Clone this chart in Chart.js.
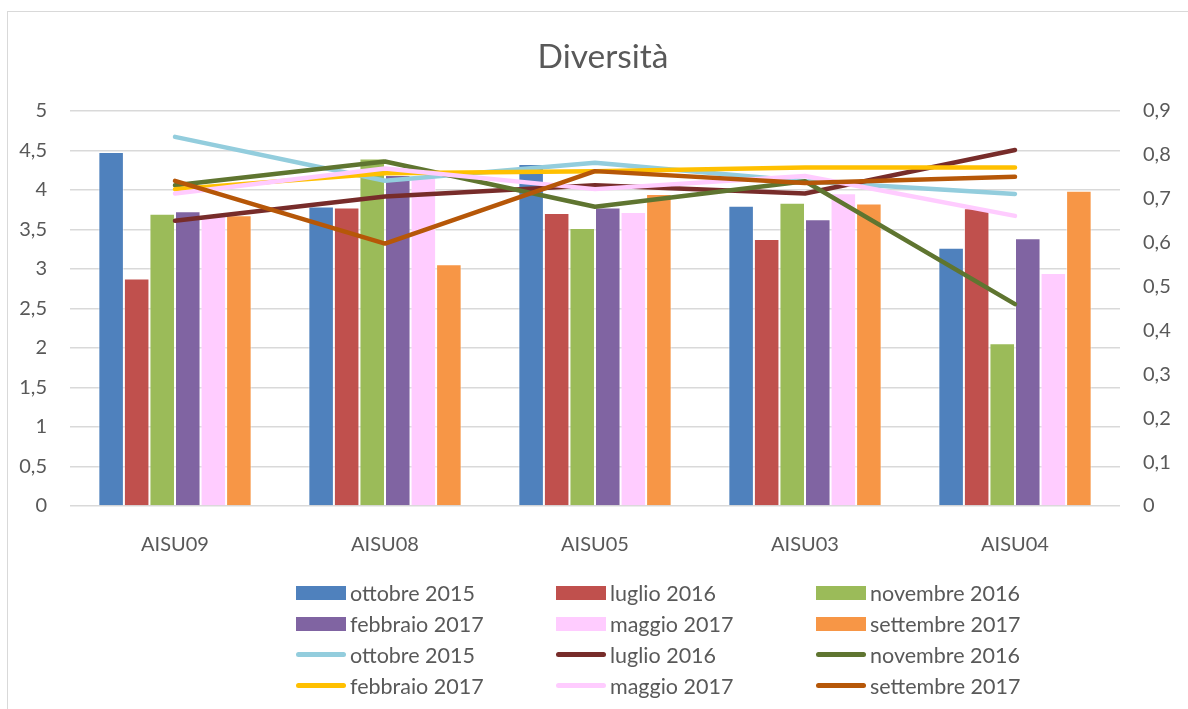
<!DOCTYPE html>
<html>
<head>
<meta charset="utf-8">
<script src="https://cdn.jsdelivr.net/npm/chart.js@4/dist/chart.umd.min.js"></script>
<style>
    body { margin: 0; background: #fff; }
    #wrap { position: relative; width: 1188px; height: 709px; overflow: hidden; }
    #frame { position: absolute; left: 7px; top: 11px; width: 1200px; height: 720px; border: 1.5px solid #d9d9d9; }
    #chart { position: absolute; left: 0; top: 0; }
    #legend {
        position: absolute; left: 296px; top: 577px;
        display: grid; grid-template-columns: 260px 260px 260px; grid-auto-rows: 31px;
        font-family: Lato, "Open Sans", sans-serif; font-size: 21.5px; color: #595959;
    }
    .item { display: flex; align-items: center; white-space: nowrap; }
    .box { width: 50px; height: 14px; margin-right: 4px; }
    .ln { width: 50px; height: 5px; border-radius: 3px; margin-right: 4px; }
</style>
</head>
<body>
<div id="wrap">
    <div id="frame"></div>
    <canvas id="chart" width="1188" height="709"></canvas>
    <div id="legend"></div>
</div>
<script>
const sites = ["AISU09", "AISU08", "AISU05", "AISU03", "AISU04"];
const periods = ["ottobre 2015", "luglio 2016", "novembre 2016", "febbraio 2017", "maggio 2017", "settembre 2017"];

// bars, left axis
const barOtt15 = [4.48, 3.79, 4.33, 3.80, 3.27];
const barLug16 = [2.88, 3.78, 3.71, 3.38, 3.77];
const barNov16 = [3.70, 4.40, 3.52, 3.84, 2.06];
const barFeb17 = [3.73, 4.19, 3.78, 3.63, 3.39];
const barMag17 = [3.67, 4.17, 3.72, 3.96, 2.95];
const barSet17 = [3.68, 3.06, 3.95, 3.83, 3.99];

// lines, right axis
const lineOtt15 = [0.841, 0.741, 0.782, 0.740, 0.711];
const lineLug16 = [0.650, 0.705, 0.731, 0.712, 0.811];
const lineNov16 = [0.731, 0.785, 0.682, 0.740, 0.460];
const lineFeb17 = [0.722, 0.758, 0.763, 0.771, 0.771];
const lineMag17 = [0.712, 0.769, 0.722, 0.752, 0.661];
const lineSet17 = [0.741, 0.598, 0.763, 0.736, 0.750];

const barColors = ["#4F81BD", "#C0504D", "#9BBB59", "#8064A2", "#FFCCFF", "#F79646"];
const lineColors = ["#93CDDD", "#772C2A", "#5F7530", "#FFC000", "#FFCCFF", "#B65708"];

const barData = [barOtt15, barLug16, barNov16, barFeb17, barMag17, barSet17];
const lineData = [lineOtt15, lineLug16, lineNov16, lineFeb17, lineMag17, lineSet17];

const FONT = "Lato, 'Open Sans', sans-serif";
const GRAY = "#595959";

const datasets = [];
barData.forEach((d, i) => {
    datasets.push({
        type: "bar",
        label: periods[i],
        data: d,
        backgroundColor: barColors[i],
        borderColor: "rgba(255,255,255,0.5)",
        borderWidth: 1,
        yAxisID: "y",
        order: 100
    });
});
lineData.forEach((d, i) => {
    datasets.push({
        type: "line",
        label: periods[i],
        data: d,
        borderColor: lineColors[i],
        backgroundColor: lineColors[i],
        borderWidth: 4.5,
        borderCapStyle: "round",
        borderJoinStyle: "round",
        pointRadius: 0,
        tension: 0,
        fill: false,
        yAxisID: "y2",
        order: 20 - i
    });
});

const comma = v => String(Math.round(v * 10) / 10).replace(".", ",");

new Chart(document.getElementById("chart"), {
    data: { labels: sites, datasets: datasets },
    options: {
        responsive: false,
        animation: false,
        layout: { padding: { left: 18, right: 0, top: 0, bottom: 143 } },
        datasets: { bar: { categoryPercentage: 0.73, barPercentage: 1 } },
        plugins: {
            legend: { display: false },
            tooltip: { enabled: false },
            title: {
                display: true,
                text: "Diversità",
                color: GRAY,
                font: { family: FONT, size: 33.5, weight: "normal", lineHeight: 1.2 },
                padding: { top: 37, bottom: 33.8 }
            }
        },
        scales: {
            x: {
                grid: { display: false },
                border: { display: false },
                ticks: { color: GRAY, font: { family: FONT, size: 20 }, padding: 19 },
                afterFit(s) { s.height = 60; }
            },
            y: {
                position: "left",
                min: 0, max: 5,
                ticks: { stepSize: 0.5, color: GRAY, font: { family: FONT, size: 20 }, padding: 23, callback: comma },
                grid: { color: "#d9d9d9", lineWidth: 1.5, drawTicks: false },
                border: { display: false },
                afterFit(s) { s.width = 52; }
            },
            y2: {
                position: "right",
                min: 0, max: 0.9,
                ticks: { stepSize: 0.1, color: GRAY, font: { family: FONT, size: 20 }, padding: 23, callback: comma },
                grid: { display: false, drawTicks: false },
                border: { display: false },
                afterFit(s) { s.width = 68; }
            }
        }
    }
});

// legend in 3 columns like the original
const legend = document.getElementById("legend");
datasets.forEach(ds => {
    const item = document.createElement("div");
    item.className = "item";
    const mark = document.createElement("span");
    mark.className = ds.type === "bar" ? "box" : "ln";
    mark.style.background = ds.type === "bar" ? ds.backgroundColor : ds.borderColor;
    const txt = document.createElement("span");
    txt.textContent = ds.label;
    item.appendChild(mark);
    item.appendChild(txt);
    legend.appendChild(item);
});
</script>
</body>
</html>
